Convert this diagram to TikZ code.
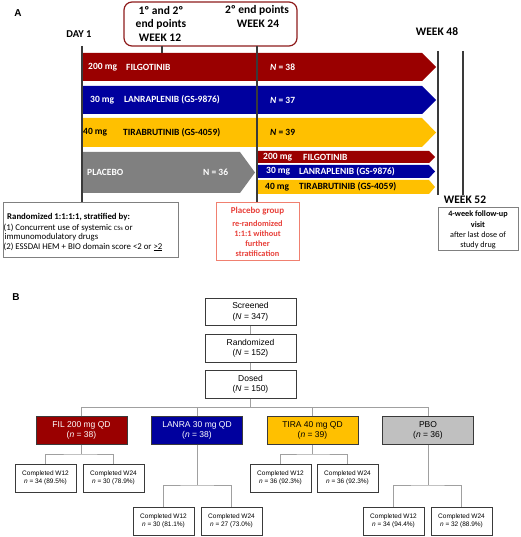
\documentclass[tikz,border=0pt]{standalone}
\usepackage{fontspec}
\setmainfont{Carlito}
\newfontfamily\arialf{Liberation Sans}
\usetikzlibrary{calc}
\definecolor{filred}{HTML}{9A0000}
\definecolor{lanblue}{HTML}{00009E}
\definecolor{tiray}{HTML}{FFC000}
\definecolor{plgray}{HTML}{808080}
\definecolor{pbogray}{HTML}{C0C0C0}
\definecolor{epred}{HTML}{8E1B1B}
\definecolor{pgred}{HTML}{E8403A}
\definecolor{pgborder}{HTML}{F08070}
\definecolor{linegray}{HTML}{3A3A3A}
\definecolor{conngray}{HTML}{A0A0A0}
\definecolor{boxgray}{HTML}{808080}
\begin{document}
\begin{tikzpicture}[x=1pt,y=-1pt,
  bartxt/.style={anchor=west,inner sep=0pt,font=\bfseries\fontsize{9.5}{11}\selectfont},
  wtxt/.style={bartxt,text=white},
  btxt/.style={bartxt,text=black},
  weektxt/.style={inner sep=0pt,font=\bfseries\fontsize{11.5}{13}\selectfont},
  vline/.style={draw=linegray,line width=1.1pt},
  randtxt/.style={anchor=west,inner sep=0pt,font=\fontsize{8.8}{10}\selectfont},
  pgtxt/.style={inner sep=0pt,text=pgred,font=\bfseries\fontsize{8.3}{10}\selectfont},
  futxt/.style={inner sep=0pt,font=\fontsize{8.2}{10}\selectfont},
  flowbox/.style={draw=linegray,line width=0.9pt,minimum width=91pt,minimum height=27.5pt,inner sep=0pt,align=center,font=\arialf\fontsize{8.5}{10.5}\selectfont},
  compbox/.style={draw=linegray,line width=0.9pt,minimum width=61pt,minimum height=28pt,inner sep=0pt,align=center,fill=white,font=\arialf\fontsize{6.5}{7.8}\selectfont},
  conn/.style={draw=conngray,line width=0.8pt},
  panellbl/.style={inner sep=0pt,font=\arialf\bfseries\fontsize{10}{12}\selectfont}
]
\useasboundingbox (0,0) rectangle (520,537);

% ---------------- Panel A ----------------
\node[panellbl] (lblA) at (18,13) {A};
\node[inner sep=0pt,font=\bfseries\fontsize{10.5}{12}\selectfont] (day1) at (79,34) {DAY 1};

% big bars
\fill[filred] (82,53) -- (422,53) -- (436,67) -- (422,81) -- (82,81) -- cycle;
\fill[lanblue] (82,86) -- (422,86) -- (436,100) -- (422,114) -- (82,114) -- cycle;
\fill[tiray] (82,118) -- (422,118) -- (436,132.5) -- (422,147) -- (82,147) -- cycle;
\fill[plgray] (82,152) -- (240,152) -- (255,172.5) -- (240,193) -- (82,193) -- cycle;
% small bars
\fill[filred] (258,151) -- (429,151) -- (435,157) -- (429,163) -- (258,163) -- cycle;
\fill[lanblue] (258,165) -- (429,165) -- (435,171.5) -- (429,178) -- (258,178) -- cycle;
\fill[tiray] (258,180) -- (429,180) -- (435,187) -- (429,194) -- (258,194) -- cycle;

% bar texts
\node[wtxt] (f1) at (88,67) {200 mg};
\node[wtxt] (f2) at (126,67) {FILGOTINIB};
\node[wtxt] (f3) at (270,67) {\textit{N} = 38};
\node[wtxt] (l1) at (90,100) {30 mg};
\node[wtxt] (l2) at (124,100) {LANRAPLENIB (GS-9876)};
\node[wtxt] (l3) at (270,100) {\textit{N} = 37};
\node[btxt] (t1) at (83,132.5) {40 mg};
\node[btxt] (t2) at (123,132.5) {TIRABRUTINIB (GS-4059)};
\node[btxt] (t3) at (270,132.5) {\textit{N} = 39};
\node[wtxt] (p1) at (87,172.5) {PLACEBO};
\node[wtxt] (p2) at (203,172.5) {N = 36};
\node[wtxt] (sf1) at (263,157) {200 mg};
\node[wtxt] (sf2) at (303,157) {FILGOTINIB};
\node[wtxt] (sl1) at (266,171.5) {30 mg};
\node[wtxt] (sl2) at (299,171.5) {LANRAPLENIB (GS-9876)};
\node[btxt] (st1) at (265,187) {40 mg};
\node[btxt] (st2) at (299,187) {TIRABRUTINIB (GS-4059)};

% end points box
\draw[draw=epred,line width=1.2pt,rounded corners=8pt] (124,2) rectangle (297,46);
\node[weektxt] (e1) at (161,10.5) {1º and 2º};
\node[weektxt] (e2) at (161,24) {end points};
\node[weektxt] (w12) at (160,38) {WEEK 12};
\node[weektxt] (e3) at (257,10.5) {2º end points};
\node[weektxt] (w24) at (258,24) {WEEK 24};

% vertical lines
\coordinate (d1top) at (82,46);
\coordinate (d1bot) at (82,202);
\draw[vline] (d1top) -- (d1bot);
\coordinate (w12top) at (162,46);
\coordinate (w12bot) at (162,53);
\draw[vline] (w12top) -- (w12bot);
\coordinate (w24top) at (257,46);
\coordinate (w24bot) at (257,202);
\draw[vline] (w24top) -- (w24bot);
\coordinate (w48top) at (438,51);
\coordinate (w48bot) at (438,195);
\draw[vline] (w48top) -- (w48bot);
\coordinate (w52top) at (463,51);
\coordinate (w52bot) at (463,195);
\draw[vline] (w52top) -- (w52bot);

\node[weektxt] (w48) at (437,32) {WEEK 48};
\node[weektxt] (w52) at (465,200) {WEEK 52};

% randomized box
\draw[draw=boxgray,line width=0.9pt,fill=white] (3,202) rectangle (178,257);
\node[randtxt,font=\bfseries\fontsize{8.8}{10}\selectfont] (r1) at (7,217) {Randomized 1:1:1:1, stratified by:};
\node[randtxt] (r2) at (3.5,228) {(1) Concurrent use of systemic {\fontsize{6.5}{7}\selectfont CSs} or};
\node[randtxt] (r3) at (4.5,237.5) {immunomodulatory drugs};
\node[randtxt] (r4) at (3.5,247) {(2) ESSDAI HEM + BIO domain score <2 or \underline{>2}};

% placebo group box
\draw[draw=pgborder,line width=0.9pt,fill=white] (216,202) rectangle (299,260);
\node[pgtxt,font=\bfseries\fontsize{9}{10}\selectfont] (pg1) at (257.5,211.5) {Placebo group};
\node[pgtxt] (pg2) at (257.5,223.5) {re-randomized};
\node[pgtxt] (pg3) at (257.5,233.5) {1:1:1 without};
\node[pgtxt] (pg4) at (257.5,244) {further};
\node[pgtxt] (pg5) at (257.5,254) {stratification};

% follow-up box
\draw[draw=boxgray,line width=0.9pt,fill=white] (438,207) rectangle (518,250);
\node[futxt,font=\bfseries\fontsize{8.2}{10}\selectfont] (fu1) at (478,214.5) {4-week follow-up};
\node[futxt,font=\bfseries\fontsize{8.2}{10}\selectfont] (fu2) at (478,224.5) {visit};
\node[futxt] (fu3) at (478,235) {after last dose of};
\node[futxt] (fu4) at (478,245) {study drug};

% ---------------- Panel B ----------------
\node[panellbl] (lblB) at (16,297) {B};

\node[flowbox] (scr) at (250.5,312) {Screened\\(\textit{N} = 347)};
\node[flowbox] (rnd) at (250.5,348.5) {Randomized\\(\textit{N} = 152)};
\node[flowbox] (dos) at (250.5,384.5) {Dosed\\(\textit{N} = 150)};

\node[flowbox,fill=filred,text=white] (fil) at (81.5,430.5) {FIL 200 mg QD\\(\textit{n} = 38)};
\node[flowbox,fill=lanblue,text=white] (lan) at (197,430.5) {LANRA 30 mg QD\\(\textit{n} = 38)};
\node[flowbox,fill=tiray] (tir) at (312.5,430.5) {TIRA 40 mg QD\\(\textit{n} = 39)};
\node[flowbox,fill=pbogray] (pbo) at (428,430.5) {PBO\\(\textit{n} = 36)};

\node[compbox] (c1) at (45.5,478) {Completed W12\\\textit{n} = 34 (89.5\%)};
\node[compbox] (c2) at (113.5,478) {Completed W24\\\textit{n} = 30 (78.9\%)};
\node[compbox] (c3) at (163.5,521) {Completed W12\\\textit{n} = 30 (81.1\%)};
\node[compbox] (c4) at (231.5,521) {Completed W24\\\textit{n} = 27 (73.0\%)};
\node[compbox] (c5) at (280.5,478) {Completed W12\\\textit{n} = 36 (92.3\%)};
\node[compbox] (c6) at (347.5,478) {Completed W24\\\textit{n} = 36 (92.3\%)};
\node[compbox] (c7) at (393.5,521) {Completed W12\\\textit{n} = 34 (94.4\%)};
\node[compbox] (c8) at (461.5,521) {Completed W24\\\textit{n} = 32 (88.9\%)};

\draw[conn] (scr) -- (rnd);
\draw[conn] (rnd) -- (dos);
\coordinate (bus) at (250.5,407.5);
\draw[conn] (dos) -- (bus);
\draw[conn] (fil.north) |- (bus) -| (pbo.north);
\draw[conn] (lan.north) -- (lan.north |- bus);
\draw[conn] (tir.north) -- (tir.north |- bus);

\coordinate (jf) at (81.5,454);
\draw[conn] (fil.south) -- (jf);
\draw[conn] (c1.north) |- (jf) -| (c2.north);
\coordinate (jl) at (197,485);
\draw[conn] (lan.south) -- (jl);
\draw[conn] (c3.north) |- (jl) -| (c4.north);
\coordinate (jt) at (312.5,454);
\draw[conn] (tir.south) -- (jt);
\draw[conn] (c5.north) |- (jt) -| (c6.north);
\coordinate (jp) at (428,485);
\draw[conn] (pbo.south) -- (jp);
\draw[conn] (c7.north) |- (jp) -| (c8.north);

\end{tikzpicture}
\end{document}
